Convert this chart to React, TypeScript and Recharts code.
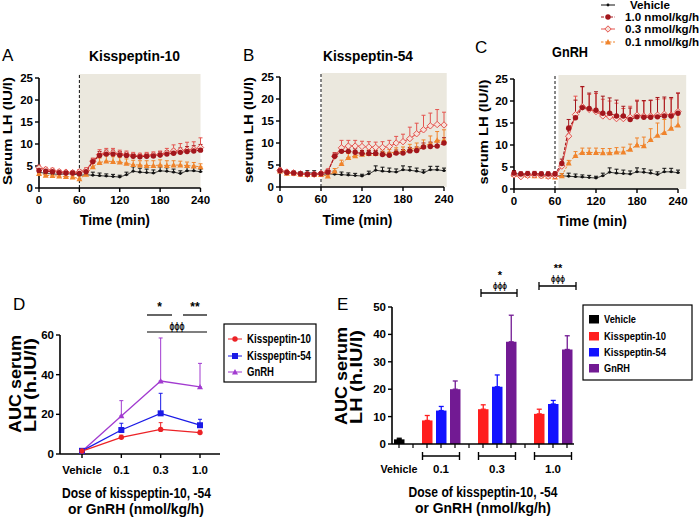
import React from 'react'
import {
  LineChart, Line, XAxis, YAxis, ErrorBar, ReferenceArea, ReferenceLine,
  BarChart, Bar,
} from 'recharts'

const FONT = "'Liberation Sans', Arial, sans-serif"

// sampling times (min)
const times = [0, 10, 20, 30, 40, 50, 60, 70, 80, 90, 100, 110, 120, 130, 140, 150, 160, 170, 180, 190, 200, 210, 220, 230, 240]

// vehicle (same in A, B, C)
const vehicleLH = [3.6, 3.3, 3.2, 3.1, 3.2, 3.2, 2.9, 3.0, 2.9, 2.8, 2.7, 2.6, 2.5, 3.0, 3.8, 3.6, 3.5, 3.4, 3.9, 3.8, 3.6, 3.3, 3.9, 3.9, 3.7]
const vehicleSem = [0.5, 0.4, 0.4, 0.4, 0.5, 0.5, 0.4, 0.5, 0.7, 0.6, 0.5, 0.5, 0.4, 0.6, 1.0, 0.9, 0.8, 0.7, 0.9, 0.8, 0.7, 0.6, 0.8, 0.8, 0.6]

// A: kisspeptin-10
const kp10High = [4.0, 3.8, 3.7, 3.5, 3.4, 3.4, 3.3, 3.7, 6.0, 7.4, 7.7, 7.7, 7.5, 7.4, 7.2, 7.1, 7.2, 7.3, 7.5, 7.7, 7.9, 8.1, 8.3, 8.4, 8.6]
const kp10HighSem = [0.5, 0.4, 0.4, 0.4, 0.4, 0.4, 0.4, 0.5, 0.6, 0.9, 0.9, 0.9, 0.8, 0.7, 0.6, 0.5, 0.6, 0.6, 0.7, 0.8, 0.9, 1.0, 1.1, 1.2, 1.3]
const kp10Mid = [4.6, 4.2, 4.0, 3.7, 3.6, 3.5, 3.7, 4.0, 6.1, 7.6, 8.0, 8.0, 7.7, 7.6, 7.4, 7.3, 7.4, 7.5, 7.6, 8.0, 8.4, 8.5, 8.6, 8.8, 9.2]
const kp10MidSem = [0.6, 0.5, 0.5, 0.4, 0.4, 0.4, 0.5, 0.6, 0.7, 1.1, 1.0, 1.0, 0.9, 0.8, 0.7, 0.6, 0.7, 0.7, 0.8, 1.0, 1.4, 1.6, 1.8, 1.7, 2.2]
const kp10Low = [3.3, 2.9, 2.8, 2.7, 2.6, 2.5, 2.1, 3.1, 4.8, 5.8, 6.1, 6.0, 5.9, 5.6, 5.3, 5.2, 5.1, 5.1, 5.2, 5.1, 5.2, 5.2, 5.1, 5.0, 4.8]
const kp10LowSem = [0.5, 0.4, 0.4, 0.4, 0.4, 0.4, 0.6, 0.6, 0.8, 1.0, 1.2, 1.1, 1.0, 1.0, 1.0, 1.0, 1.1, 1.1, 1.2, 1.1, 1.0, 0.9, 0.8, 0.8, 0.7]

// B: kisspeptin-54
const kp54High = [3.7, 3.3, 3.2, 3.0, 2.9, 2.9, 3.0, 3.4, 7.0, 8.1, 8.1, 7.9, 7.6, 7.6, 7.6, 7.4, 7.2, 7.7, 7.7, 8.2, 8.3, 9.1, 9.2, 9.3, 10.0]
const kp54HighSem = [0.4, 0.4, 0.3, 0.3, 0.3, 0.3, 0.4, 0.5, 0.7, 0.9, 0.8, 0.8, 0.7, 0.7, 0.7, 0.7, 0.7, 0.7, 0.8, 0.8, 0.8, 0.9, 1.0, 1.0, 1.2]
const kp54Mid = [3.8, 3.4, 3.2, 3.0, 2.9, 2.9, 3.1, 3.6, 7.0, 8.9, 9.3, 9.3, 9.2, 9.1, 9.0, 9.0, 9.2, 10.0, 10.3, 11.0, 12.1, 13.0, 13.9, 14.2, 14.1]
const kp54MidSem = [0.5, 0.4, 0.4, 0.3, 0.3, 0.3, 0.4, 0.5, 0.8, 1.7, 1.3, 1.3, 1.2, 1.2, 1.2, 1.3, 1.4, 1.5, 1.7, 2.6, 2.4, 3.3, 2.9, 3.4, 2.9]
const kp54Low = [3.6, 3.1, 3.1, 2.9, 2.8, 2.8, 2.8, 2.5, 3.6, 5.3, 6.7, 7.1, 7.4, 7.6, 7.6, 7.7, 7.7, 8.0, 8.1, 8.6, 8.8, 9.3, 9.8, 10.6, 10.6]
const kp54LowSem = [0.5, 0.4, 0.4, 0.4, 0.4, 0.3, 0.4, 0.4, 0.6, 0.8, 0.9, 0.8, 0.8, 0.8, 0.8, 0.8, 0.8, 0.9, 1.0, 1.1, 1.2, 1.4, 1.8, 2.0, 2.4]

// C: GnRH
const gnrhHigh = [3.6, 3.4, 3.5, 3.5, 3.4, 3.4, 3.4, 5.8, 13.8, 16.2, 18.5, 18.3, 17.9, 17.2, 17.2, 16.6, 16.6, 15.8, 16.4, 16.3, 16.3, 16.4, 16.6, 16.6, 17.2]
const gnrhHighSem = [0.6, 0.5, 0.5, 0.5, 0.5, 0.5, 0.5, 1.0, 2.0, 4.0, 4.8, 3.5, 4.2, 3.9, 3.5, 3.6, 2.2, 2.6, 3.6, 3.8, 3.9, 4.4, 4.3, 4.2, 4.6]
const gnrhMid = [3.2, 2.8, 3.1, 3.2, 3.0, 2.9, 3.0, 5.2, 12.0, 16.9, 18.7, 18.1, 17.6, 16.6, 16.4, 16.0, 16.0, 16.3, 16.8, 16.6, 16.6, 16.8, 17.0, 16.8, 17.6]
const gnrhMidSem = [0.6, 0.5, 0.5, 0.5, 0.5, 0.5, 0.5, 1.0, 2.3, 4.2, 4.5, 3.4, 4.1, 3.8, 3.6, 3.5, 2.3, 2.5, 3.4, 3.4, 3.5, 3.6, 3.5, 3.7, 4.2]
const gnrhLow = [3.3, 3.1, 3.1, 3.0, 3.0, 2.9, 2.7, 3.0, 5.9, 7.6, 8.3, 8.3, 8.3, 8.2, 8.2, 8.4, 8.4, 9.0, 10.0, 9.8, 11.2, 12.2, 12.8, 13.8, 14.5]
const gnrhLowSem = [0.5, 0.4, 0.4, 0.4, 0.4, 0.4, 0.4, 0.5, 0.6, 0.9, 1.0, 1.0, 1.0, 1.0, 1.0, 1.0, 1.1, 1.2, 1.6, 2.0, 2.5, 2.8, 3.0, 3.0, 3.2]

// D: AUC vs dose (lines)
const doseLabels = ['Vehicle', '0.1', '0.3', '1.0']
const aucKp10D = [1.5, 8.4, 12.4, 10.8]
const aucKp10DSem = [0.4, 1.1, 3.4, 1.2]
const aucKp54D = [1.6, 12.1, 20.5, 14.5]
const aucKp54DSem = [0.5, 3.4, 10.1, 3.0]
const aucGnrhD = [1.4, 19.2, 36.8, 33.8]
const aucGnrhDSem = [0.5, 7.7, 21.7, 11.9]

// E: AUC bars
const aucVehicleE = 1.7
const aucVehicleESem = 0.4
const dosesE = ['0.1', '0.3', '1.0']
const aucKp10E = [8.6, 12.7, 11.0]
const aucKp10ESem = [1.8, 1.6, 1.7]
const aucKp54E = [12.2, 20.9, 14.6]
const aucKp54ESem = [1.5, 4.3, 1.3]
const aucGnrhE = [20.0, 37.3, 34.5]
const aucGnrhESem = [3.0, 9.7, 5.0]

const C_HIGH = '#a3161c'
const C_MID = '#e4544f'
const C_LOW = '#f0842c'
const SHADE = '#ebe8de'

type Shape = 'dot' | 'circle' | 'diamond' | 'triangle' | 'square'
type Series = { key: string; color: string; dash?: string; shape: Shape; width: number; values: number[]; sem: number[] }

function Marker({ cx, cy, shape, color }: { cx?: number; cy?: number; shape: Shape; color: string }) {
  if (cx == null || cy == null || isNaN(cx) || isNaN(cy)) return <g />
  if (shape === 'dot') return <circle cx={cx} cy={cy} r={1.4} fill={color} />
  if (shape === 'circle') return <circle cx={cx} cy={cy} r={2.7} fill={color} />
  if (shape === 'square') return <rect x={cx - 3} y={cy - 3} width={6} height={6} fill={color} />
  if (shape === 'diamond')
    return <polygon points={`${cx},${cy - 3.2} ${cx + 3.2},${cy} ${cx},${cy + 3.2} ${cx - 3.2},${cy}`} fill="#f6e2da" stroke={color} strokeWidth={1} />
  return <polygon points={`${cx},${cy - 3} ${cx + 3},${cy + 2.4} ${cx - 3},${cy + 2.4}`} fill={color} />
}

const tickStyle = { fill: '#000', fontSize: 11.5, fontWeight: 700, fontFamily: FONT }
const axisLine = { stroke: '#000', strokeWidth: 1.6 }
const tickLine = { stroke: '#000', strokeWidth: 1.4 }

function seriesLines(list: Series[]) {
  return list.map(s => (
    <Line
      key={s.key}
      dataKey={s.key}
      stroke={s.color}
      strokeWidth={s.width}
      strokeDasharray={s.dash}
      isAnimationActive={false}
      activeDot={false}
      dot={(p: any) => <Marker key={`${s.key}-${p.index}`} cx={p.cx} cy={p.cy} shape={s.shape} color={s.color} />}
    >
      <ErrorBar dataKey={s.key + 'E'} width={2} stroke={s.color} strokeWidth={1} direction="y" isAnimationActive={false} />
    </Line>
  ))
}

// one time-course panel; box = plot area [left, right, top, bottom] in page px
function TimeCourse({ box, series, shade }: { box: number[]; series: Series[]; shade: number[] }) {
  const [l, r, t, b] = box
  const rows = times.map((tm, i) => {
    const row: any = { t: tm }
    series.forEach(s => {
      row[s.key] = s.values[i]
      row[s.key + 'E'] = [0, s.sem[i]]
    })
    return row
  })
  return (
    <div style={{ position: 'absolute', left: l - 40, top: t - 12 }}>
      <LineChart width={r - l + 54} height={b - t + 38} data={rows} margin={{ top: 12, right: 14, left: 0, bottom: 0 }}>
        <ReferenceArea x1={shade[0]} x2={shade[1]} y1={0} y2={25.9} fill={SHADE} fillOpacity={1} stroke="none" ifOverflow="visible" />
        <ReferenceLine segment={[{ x: 60, y: 0 }, { x: 60, y: 25.9 }]} stroke="#111" strokeWidth={1} strokeDasharray="3 2" ifOverflow="visible" />
        <XAxis dataKey="t" type="number" domain={[0, 240]} ticks={[0, 60, 120, 180, 240]} height={26}
          axisLine={axisLine} tickLine={tickLine} tickSize={4} tickMargin={4} tick={tickStyle} />
        <YAxis type="number" domain={[0, 25]} ticks={[0, 5, 10, 15, 20, 25]} width={40}
          axisLine={axisLine} tickLine={tickLine} tickSize={4} tick={tickStyle} />
        {seriesLines(series)}
      </LineChart>
    </div>
  )
}

function doseSeries(high: number[], highSem: number[], mid: number[], midSem: number[], low: number[], lowSem: number[]): Series[] {
  return [
    { key: 'veh', color: '#111', shape: 'dot', width: 0.8, values: vehicleLH, sem: vehicleSem },
    { key: 'low', color: C_LOW, dash: '2.5 1.5', shape: 'triangle', width: 1, values: low, sem: lowSem },
    { key: 'mid', color: C_MID, shape: 'diamond', width: 1.1, values: mid, sem: midSem },
    { key: 'high', color: C_HIGH, dash: '3 1.5', shape: 'circle', width: 1.1, values: high, sem: highSem },
  ]
}

function PanelD() {
  const rows = doseLabels.map((d, i) => ({
    dose: d,
    k10: aucKp10D[i], k10E: [0, aucKp10DSem[i]],
    k54: aucKp54D[i], k54E: [0, aucKp54DSem[i]],
    gn: aucGnrhD[i], gnE: [0, aucGnrhDSem[i]],
  }))
  const series: Series[] = [
    { key: 'gn', color: '#a23bd0', shape: 'triangle', width: 1.3, values: [], sem: [] },
    { key: 'k54', color: '#1b1be6', shape: 'square', width: 1.3, values: [], sem: [] },
    { key: 'k10', color: '#ec2226', shape: 'circle', width: 1.3, values: [], sem: [] },
  ]
  return (
    <div style={{ position: 'absolute', left: 20, top: 323 }}>
      <LineChart width={206} height={155} data={rows} margin={{ top: 12, right: 6, left: 0, bottom: 0 }}>
        <XAxis dataKey="dose" type="category" padding={{ left: 22, right: 20 }} height={24} interval={0}
          axisLine={axisLine} tickLine={tickLine} tickSize={4} tickMargin={8} tick={tickStyle} />
        <YAxis type="number" domain={[0, 60]} ticks={[0, 20, 40, 60]} width={40}
          axisLine={axisLine} tickLine={tickLine} tickSize={4} tick={tickStyle} />
        {seriesLines(series)}
      </LineChart>
    </div>
  )
}

const E_COLORS: Record<string, string> = { veh: '#000', k10: '#ff1e1e', k54: '#1212ff', gn: '#721a93' }
const E_GROUPS = ['veh', 'k10', 'k54', 'gn']

function PanelE() {
  const rows: any[] = [{ slot: 'veh', label: 'Vehicle', veh: aucVehicleE, vehE: [0, aucVehicleESem] }]
  dosesE.forEach((d, i) => {
    rows.push({ slot: 'gap-' + d, label: '' })
    rows.push({ slot: 'k10-' + d, label: '', k10: aucKp10E[i], k10E: [0, aucKp10ESem[i]] })
    rows.push({ slot: 'k54-' + d, label: d, k54: aucKp54E[i], k54E: [0, aucKp54ESem[i]] })
    rows.push({ slot: 'gn-' + d, label: '', gn: aucGnrhE[i], gnE: [0, aucGnrhESem[i]] })
  })
  const labelOf: Record<string, string> = {}
  rows.forEach(r => { labelOf[r.slot] = r.label })
  const tick = (p: any) => {
    const { x, y, payload } = p
    const lab = labelOf[payload.value]
    if (!lab) return <g />
    const txt = { fill: '#000', fontSize: 11.5, fontWeight: 700, fontFamily: FONT, textAnchor: 'middle' as const }
    if (lab === 'Vehicle') return <text x={x} y={y + 23} {...txt} textLength={37} lengthAdjust="spacingAndGlyphs">Vehicle</text>
    return (
      <g stroke="#000" strokeWidth={1.4}>
        <line x1={x - 18.5} x2={x + 18.5} y1={y + 6} y2={y + 6} />
        <line x1={x - 18.5} x2={x - 18.5} y1={y + 2} y2={y + 10} />
        <line x1={x + 18.5} x2={x + 18.5} y1={y + 2} y2={y + 10} />
        <text x={x} y={y + 23} {...txt} stroke="none">{lab}</text>
      </g>
    )
  }
  return (
    <div style={{ position: 'absolute', left: 352, top: 295 }}>
      <BarChart width={228} height={189} data={rows} margin={{ top: 12, right: 6, left: 0, bottom: 0 }} barSize={10.5}>
        <XAxis dataKey="slot" type="category" height={40} interval={0}
          axisLine={axisLine} tickLine={{ stroke: '#000', strokeWidth: 1.2 }} tickSize={4} tick={tick} />
        <YAxis type="number" domain={[0, 50]} ticks={[0, 10, 20, 30, 40, 50]} width={40}
          axisLine={axisLine} tickLine={tickLine} tickSize={4} tick={tickStyle} />
        {E_GROUPS.map(g => (
          <Bar key={g} dataKey={g} stackId="auc" fill={E_COLORS[g]} isAnimationActive={false}>
            <ErrorBar dataKey={g + 'E'} width={2.5} stroke={E_COLORS[g]} strokeWidth={1.3} direction="y" isAnimationActive={false} />
          </Bar>
        ))}
      </BarChart>
    </div>
  )
}

function Txt({ x, y, size, bold = true, anchor = 'middle', len, rot, children }: any) {
  return (
    <text x={x} y={y} fontSize={size} fontWeight={bold ? 700 : 400} fontFamily={FONT} textAnchor={anchor} fill="#000"
      textLength={len} lengthAdjust={len ? 'spacingAndGlyphs' : undefined}
      dominantBaseline={rot ? 'central' : undefined}
      transform={rot ? `rotate(-90 ${x} ${y})` : undefined}>
      {children}
    </text>
  )
}

function LegendSym({ x, y, shape, color, dash }: { x: number; y: number; shape: Shape; color: string; dash?: string }) {
  return (
    <g>
      <line x1={x - 7} x2={x + 7} y1={y} y2={y} stroke={color} strokeWidth={1} strokeDasharray={dash} />
      <Marker cx={x} cy={y} shape={shape} color={color} />
    </g>
  )
}

function Overlay() {
  return (
    <svg width={699} height={518} style={{ position: 'absolute', left: 0, top: 0, pointerEvents: 'none' }}>
      {/* panel letters */}
      <Txt x={2} y={61} size={17} bold={false} anchor="start">A</Txt>
      <Txt x={243} y={61} size={17} bold={false} anchor="start">B</Txt>
      <Txt x={475} y={53} size={17} bold={false} anchor="start">C</Txt>
      <Txt x={13} y={310} size={17} bold={false} anchor="start">D</Txt>
      <Txt x={337} y={310} size={17} bold={false} anchor="start">E</Txt>
      {/* titles */}
      <Txt x={134.5} y={61} size={15} len={91}>Kisspeptin-10</Txt>
      <Txt x={368} y={61} size={15} len={90}>Kisspeptin-54</Txt>
      <Txt x={570} y={57} size={15} len={36}>GnRH</Txt>
      {/* time-course axis titles */}
      <Txt x={7} y={131} size={13.5} len={108} rot>Serum LH  (IU/l)</Txt>
      <Txt x={248} y={130} size={13.5} len={106} rot>serum LH  (IU/l)</Txt>
      <Txt x={483} y={132} size={13.5} len={105} rot>serum LH  (IU/l)</Txt>
      <Txt x={115} y={225} size={14.5} len={70}>Time (min)</Txt>
      <Txt x={357.5} y={225} size={14.5} len={70}>Time (min)</Txt>
      <Txt x={592} y={226} size={14.5} len={70}>Time (min)</Txt>
      {/* top legend */}
      <LegendSym x={608} y={5} shape="dot" color="#111" />
      <LegendSym x={608} y={17} shape="circle" color={C_HIGH} dash="3 1.5" />
      <LegendSym x={608} y={29} shape="diamond" color={C_MID} />
      <LegendSym x={608} y={42} shape="triangle" color={C_LOW} dash="2.5 1.5" />
      <Txt x={630} y={9} size={11.5} anchor="start" len={40}>Vehicle</Txt>
      <Txt x={625} y={21} size={11.5} anchor="start" len={74}>1.0 nmol/kg/h</Txt>
      <Txt x={625} y={33} size={11.5} anchor="start" len={74}>0.3 nmol/kg/h</Txt>
      <Txt x={625} y={46} size={11.5} anchor="start" len={74}>0.1 nmol/kg/h</Txt>
      {/* D / E axis titles */}
      <Txt x={15} y={384} size={16.5} len={98} rot>AUC serum</Txt>
      <Txt x={30} y={385} size={16.5} len={94} rot>LH (h.IU/l)</Txt>
      <Txt x={341} y={376} size={16.5} len={98} rot>AUC serum</Txt>
      <Txt x={356} y={377} size={16.5} len={94} rot>LH (h.IU/l)</Txt>
      <Txt x={136.5} y={498} size={14.5} len={149}>Dose of kisspeptin-10, -54</Txt>
      <Txt x={136} y={514} size={14.5} len={136}>or GnRH (nmol/kg/h)</Txt>
      <Txt x={483} y={497} size={14.5} len={149}>Dose of kisspeptin-10, -54</Txt>
      <Txt x={483} y={513} size={14.5} len={136}>or GnRH (nmol/kg/h)</Txt>
      {/* D significance */}
      <g stroke="#000" strokeWidth={1.2}>
        <line x1={147} x2={172} y1={315} y2={315} />
        <line x1={183} x2={207} y1={315} y2={315} />
        <line x1={147} x2={207} y1={332} y2={332} />
      </g>
      <Txt x={159.5} y={311} size={12}>*</Txt>
      <Txt x={195} y={311} size={12}>**</Txt>
      <Txt x={177} y={330} size={10} len={15}>ϕϕϕ</Txt>
      {/* D legend */}
      <rect x={224} y={324} width={92} height={58} fill="#fff" stroke="#000" strokeWidth={1.2} />
      <LegendSym x={235} y={339} shape="circle" color="#ec2226" />
      <LegendSym x={235} y={356} shape="square" color="#1b1be6" />
      <LegendSym x={235} y={372} shape="triangle" color="#a23bd0" />
      <Txt x={247} y={343} size={12} anchor="start" len={64}>Kisspeptin-10</Txt>
      <Txt x={247} y={360} size={12} anchor="start" len={64}>Kisspeptin-54</Txt>
      <Txt x={247} y={376} size={12} anchor="start" len={27}>GnRH</Txt>
      {/* E significance */}
      <g stroke="#000" strokeWidth={1.3}>
        <line x1={481} x2={517} y1={293} y2={293} />
        <line x1={481} x2={481} y1={289} y2={297} />
        <line x1={517} x2={517} y1={289} y2={297} />
        <line x1={539} x2={576} y1={286} y2={286} />
        <line x1={539} x2={539} y1={282} y2={290} />
        <line x1={576} x2={576} y1={282} y2={290} />
      </g>
      <Txt x={500} y={279} size={11}>*</Txt>
      <Txt x={500} y={289} size={9} len={14}>ϕϕϕ</Txt>
      <Txt x={558} y={272} size={11}>**</Txt>
      <Txt x={558} y={282} size={9} len={14}>ϕϕϕ</Txt>
      {/* E legend */}
      <rect x={583} y={305} width={109} height={75} fill="#fff" stroke="#000" strokeWidth={1.2} />
      <rect x={589} y={315} width={10} height={8.5} fill={E_COLORS.veh} />
      <rect x={589} y={332} width={10} height={8.5} fill={E_COLORS.k10} />
      <rect x={589} y={348} width={10} height={8.5} fill={E_COLORS.k54} />
      <rect x={589} y={364} width={10} height={8.5} fill={E_COLORS.gn} />
      <Txt x={604} y={323} size={11.5} anchor="start" len={32}>Vehicle</Txt>
      <Txt x={604} y={340} size={11.5} anchor="start" len={62}>Kisspeptin-10</Txt>
      <Txt x={604} y={356} size={11.5} anchor="start" len={62}>Kisspeptin-54</Txt>
      <Txt x={604} y={372} size={11.5} anchor="start" len={26}>GnRH</Txt>
    </svg>
  )
}

export default function App() {
  return (
    <div style={{ position: 'absolute', left: 0, top: 0, width: 699, height: 518, background: '#fff', overflow: 'hidden', fontFamily: FONT }}>
      <TimeCourse box={[38.5, 200, 78, 188]} shade={[60, 240]}
        series={doseSeries(kp10High, kp10HighSem, kp10Mid, kp10MidSem, kp10Low, kp10LowSem)} />
      <TimeCourse box={[280, 444, 77, 187]} shade={[61, 244]}
        series={doseSeries(kp54High, kp54HighSem, kp54Mid, kp54MidSem, kp54Low, kp54LowSem)} />
      <TimeCourse box={[514, 678, 79, 189]} shade={[65, 252]}
        series={doseSeries(gnrhHigh, gnrhHighSem, gnrhMid, gnrhMidSem, gnrhLow, gnrhLowSem)} />
      <PanelD />
      <PanelE />
      <Overlay />
    </div>
  )
}
